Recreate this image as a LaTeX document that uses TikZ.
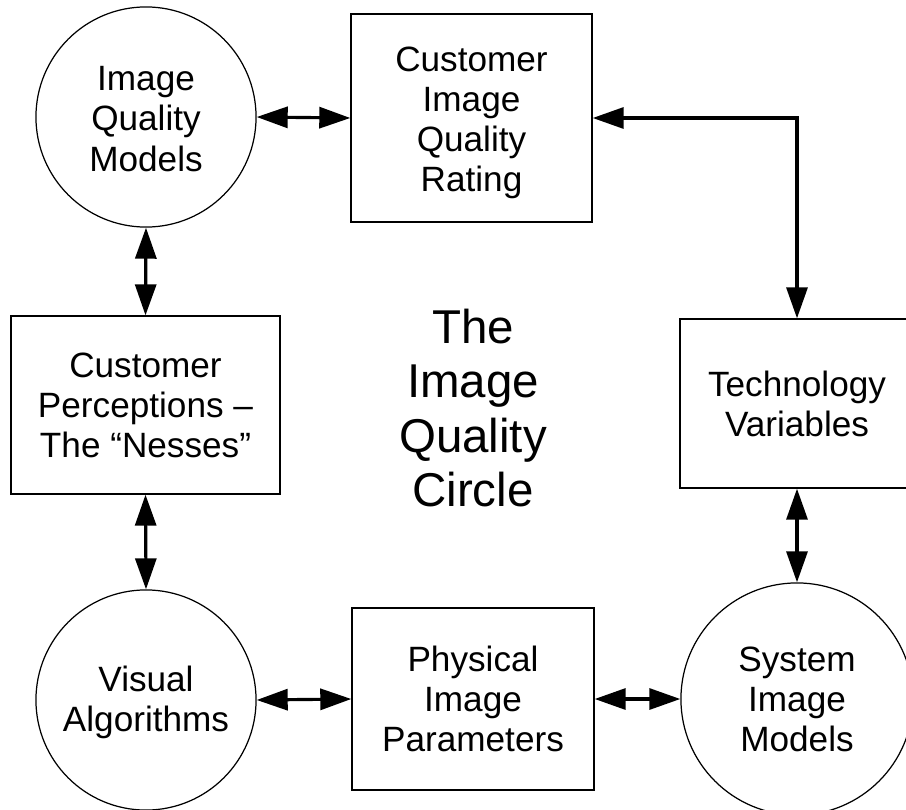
\documentclass[tikz,border=0pt]{standalone}
\usepackage{fontspec}
\setmainfont{Liberation Sans}
\usetikzlibrary{arrows.meta,positioning}

\begin{document}
\begin{tikzpicture}[x=0.01cm, y=-0.01cm,
    txt/.style={align=center, inner sep=0pt, font=\fontsize{10}{11.4}\selectfont},
    circ/.style={txt, draw, line width=0.35pt, circle},
    box/.style={txt, draw, line width=0.35pt, rectangle},
    link/.style={{Triangle[length=0.31cm,width=0.21cm]}-{Triangle[length=0.31cm,width=0.21cm]}, line width=0.9pt}]
  \useasboundingbox (0,0) rectangle (906,809);
  \clip (0,0) rectangle (906,809);

  % top row
  \node[circ, minimum size=2.2cm] (iqm) at (146,117) {};
  \node[txt] (iqmtext) at (146,119) {Image\\Quality\\Models};
  \node[box, minimum width=2.41cm, minimum height=2.08cm] (ciqr) at (471.5,118) {};
  \node[txt] (ciqrtext) at (471.5,123) {Customer\\Image\\Quality\\Rating};

  % middle row
  \node[box, minimum width=2.69cm, minimum height=1.78cm] (cpn) at (145.5,405) {Customer\\Perceptions –\\The “Nesses”};
  \node[font=\fontsize{13.5}{15.4}\selectfont, align=center] (title) at (473,408) {The\\Image\\Quality\\Circle};
  \node[box, minimum width=2.34cm, minimum height=1.69cm] (tv) at (797,403.5) {Technology\\Variables};

  % bottom row
  \node[circ, minimum size=2.2cm] (va) at (146,700) {};
  \node[txt] (vatext) at (146,702) {Visual\\Algorithms};
  \node[box, minimum width=2.42cm, minimum height=1.82cm] (pip) at (473,699) {Physical\\Image\\Parameters};
  \node[circ, minimum size=2.32cm] (sim) at (797,699) {System\\Image\\Models};

  % connectors
  \draw[link] (iqm.east) -- (ciqr.west);
  \draw[link] (ciqr.east) -| (tv.north);
  \draw[link] (iqm.south) -- (cpn.north);
  \draw[link] (cpn.south) -- (va.north);
  \draw[link] (tv.south) -- (sim.north);
  \draw[link] (va.east) -- (pip.west);
  \draw[link] (pip.east) -- (sim.west);
\end{tikzpicture}
\end{document}
